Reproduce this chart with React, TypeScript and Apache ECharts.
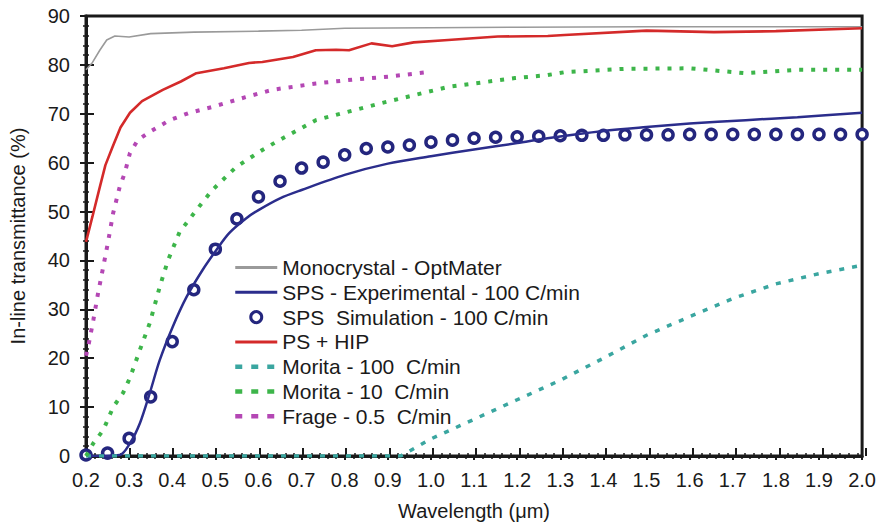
import React, { useEffect, useRef } from "react";
import * as echarts from "echarts";

// Wavelength (µm) vs in-line transmittance (%) readings, [x, y]
const monocrystal: [number, number][] = [
  [0.2, 79], [0.215, 80.5], [0.232, 83], [0.248, 85.1], [0.267, 85.9], [0.3, 85.7],
  [0.35, 86.4], [0.45, 86.7], [0.6, 86.9], [0.7, 87.1], [0.8, 87.5], [1.0, 87.6],
  [1.2, 87.7], [1.5, 87.8], [1.8, 87.8], [2.0, 87.8],
];

const spsExperimental: [number, number][] = [
  [0.2, 0], [0.278, 0.2], [0.302, 2.6], [0.325, 6.7], [0.348, 12.9], [0.371, 19.6],
  [0.401, 26.4], [0.433, 32.5], [0.47, 38], [0.502, 42.1], [0.532, 45.6], [0.571, 48.6],
  [0.6, 50.3], [0.65, 52.7], [0.7, 54.4], [0.8, 57.5], [0.9, 59.8], [1.0, 61.3],
  [1.1, 62.7], [1.2, 64], [1.27, 65], [1.4, 66.5], [1.5, 67.3], [1.6, 68],
  [1.73, 68.7], [1.85, 69.3], [2.0, 70.2],
];

const simWavelength: number[] = [
  0.2, 0.25, 0.3, 0.35, 0.4, 0.45, 0.5, 0.55, 0.6, 0.65, 0.7, 0.75, 0.8, 0.85, 0.9,
  0.95, 1.0, 1.05, 1.1, 1.15, 1.2, 1.25, 1.3, 1.35, 1.4, 1.45, 1.5, 1.55, 1.6, 1.65,
  1.7, 1.75, 1.8, 1.85, 1.9, 1.95, 2.0,
];
const simTransmittance: number[] = [
  0.2, 0.6, 3.6, 12.1, 23.4, 34, 42.3, 48.5, 53, 56.2, 58.9, 60.1, 61.6, 62.9, 63.2,
  63.6, 64.2, 64.6, 65, 65.2, 65.3, 65.4, 65.5, 65.6, 65.6, 65.7, 65.7, 65.7, 65.8, 65.8,
  65.8, 65.8, 65.8, 65.8, 65.8, 65.8, 65.8,
];

const psHip: [number, number][] = [
  [0.2, 43.8], [0.215, 49], [0.232, 55], [0.245, 59.5], [0.262, 63.3], [0.28, 67.2],
  [0.302, 70.2], [0.33, 72.6], [0.378, 74.9], [0.42, 76.6], [0.456, 78.3], [0.52, 79.3],
  [0.578, 80.4], [0.609, 80.6], [0.68, 81.6], [0.733, 83], [0.78, 83.1], [0.81, 83],
  [0.862, 84.4], [0.91, 83.8], [0.96, 84.6], [1.04, 85.1], [1.155, 85.8], [1.271, 85.9],
  [1.31, 86.1], [1.5, 87], [1.656, 86.7], [1.8, 86.9], [2.0, 87.5],
];

const morita100: [number, number][] = [
  [0.2, 0], [0.93, 0], [1.0, 3.5], [1.1, 7.5], [1.2, 11.5], [1.3, 15.5], [1.4, 20],
  [1.5, 24.7], [1.6, 28.5], [1.7, 32.2], [1.8, 35.2], [1.9, 37.3], [2.0, 39],
];

const morita10: [number, number][] = [
  [0.2, 0], [0.217, 2.6], [0.24, 5.3], [0.263, 10], [0.286, 12.9], [0.302, 16],
  [0.325, 21.7], [0.348, 27.2], [0.371, 34.6], [0.39, 40], [0.417, 45.8], [0.456, 50.3],
  [0.493, 54.4], [0.548, 59.1], [0.609, 62.6], [0.648, 64.6], [0.733, 68.7], [0.886, 72.2],
  [1.04, 75.5], [1.195, 77.3], [1.27, 77.9], [1.31, 78.5], [1.45, 79.2], [1.6, 79.3],
  [1.73, 78.3], [1.85, 79], [2.0, 79],
];

const frage: [number, number][] = [
  [0.2, 20.5], [0.205, 22.3], [0.217, 27.8], [0.228, 33.3], [0.24, 38.7], [0.252, 44.2],
  [0.263, 49.7], [0.278, 55], [0.29, 57.9], [0.302, 62], [0.32, 64.6], [0.348, 66.3],
  [0.394, 68.7], [0.44, 70.2], [0.493, 71.4], [0.57, 73.4], [0.632, 74.9], [0.733, 76.2],
  [0.82, 77], [0.902, 77.6], [1.0, 78.6],
];

const seriesNames: string[] = [
  "Monocrystal - OptMater",
  "SPS - Experimental - 100 C/min",
  "SPS  Simulation - 100 C/min",
  "PS + HIP",
  "Morita - 100  C/min",
  "Morita - 10  C/min",
  "Frage - 0.5  C/min",
];

const FONT = "'Liberation Sans', Arial, Helvetica, sans-serif";
const INK = "#1a1a1a";
const RING = "#24267e";

const gridBox = { left: 86, right: 13, top: 16, bottom: 72 };

export default function App() {
  const ref = useRef<HTMLDivElement>(null);

  useEffect(() => {
    if (!ref.current) return;
    const chart = echarts.init(ref.current, undefined, { renderer: "svg" });

    const xRange = { type: "value" as const, min: 0.2, max: 2.0, interval: 0.1 };
    const yRange = { type: "value" as const, min: 0, max: 90, interval: 10 };

    // line entries show only a heavier stroke in the legend; the scatter keeps its ring
    const dashedKey = { width: 4.5, type: [7, 9] };
    const legendData = seriesNames.map((name, i) => {
      if (i === 2) {
        return { name, itemStyle: { color: "#ffffff", borderColor: RING, borderWidth: 3 } };
      }
      const lineStyle = i >= 4 ? dashedKey : { width: 3 };
      return { name, itemStyle: { opacity: 0 }, lineStyle };
    });

    chart.setOption({
      animation: false,
      backgroundColor: "#ffffff",
      grid: [
        { ...gridBox, show: true, borderColor: INK, borderWidth: 3, backgroundColor: "transparent" },
        { ...gridBox, show: false },
      ],
      xAxis: [
        {
          ...xRange,
          gridIndex: 0,
          name: "Wavelength (\u03bcm)",
          nameLocation: "middle",
          nameGap: 45,
          nameTextStyle: { fontFamily: FONT, fontSize: 20, color: INK },
          axisLine: { lineStyle: { color: INK, width: 3 } },
          axisTick: { show: true, inside: false, length: 4, lineStyle: { color: INK, width: 2 } },
          minorTick: { show: true, splitNumber: 5, length: 3, lineStyle: { color: INK, width: 1.5 } },
          axisLabel: {
            margin: 14,
            fontFamily: FONT,
            fontSize: 20,
            color: INK,
            formatter: (v: number) => v.toFixed(1),
          },
          splitLine: { show: false },
        },
        {
          ...xRange,
          gridIndex: 1,
          axisLine: { show: false },
          axisTick: { show: true, inside: true, length: 8, lineStyle: { color: INK, width: 2 } },
          minorTick: { show: true, splitNumber: 5, length: 3, lineStyle: { color: INK, width: 1.5 } },
          axisLabel: { show: false },
          splitLine: { show: false },
        },
      ],
      yAxis: [
        {
          ...yRange,
          gridIndex: 0,
          name: "In-line transmittance (%)",
          nameLocation: "middle",
          nameGap: 58,
          nameTextStyle: { fontFamily: FONT, fontSize: 20, color: INK },
          axisLine: { show: true, lineStyle: { color: INK, width: 3 } },
          axisTick: { show: true, inside: false, length: 6, lineStyle: { color: INK, width: 2 } },
          minorTick: { show: true, splitNumber: 5, length: 3, lineStyle: { color: INK, width: 1.5 } },
          axisLabel: { margin: 16, fontFamily: FONT, fontSize: 20, color: INK },
          splitLine: { show: false },
        },
        {
          ...yRange,
          gridIndex: 1,
          axisLine: { show: false },
          axisTick: { show: true, inside: true, length: 8, lineStyle: { color: INK, width: 2 } },
          minorTick: { show: true, splitNumber: 5, length: 3, lineStyle: { color: INK, width: 1.5 } },
          axisLabel: { show: false },
          splitLine: { show: false },
        },
      ],
      legend: {
        orient: "vertical",
        left: 228,
        top: 252,
        itemWidth: 42,
        itemHeight: 11,
        itemGap: 3.8,
        textStyle: { fontFamily: FONT, fontSize: 21, color: INK, lineHeight: 20 },
        data: legendData,
      },
      series: [
        {
          name: seriesNames[0],
          type: "line",
          data: monocrystal,
          symbol: "none",
          lineStyle: { color: "#9a9a9a", width: 1.6 },
          itemStyle: { color: "#9a9a9a" },
        },
        {
          name: seriesNames[1],
          type: "line",
          data: spsExperimental,
          symbol: "none",
          smooth: 0.3,
          lineStyle: { color: "#2b2d8c", width: 2.5 },
          itemStyle: { color: "#2b2d8c" },
        },
        {
          name: seriesNames[2],
          type: "scatter",
          data: simWavelength.map((x, i) => [x, simTransmittance[i]]),
          symbol: "circle",
          symbolSize: 10,
          itemStyle: { color: "#ffffff", borderColor: RING, borderWidth: 3.5, opacity: 1 },
        },
        {
          name: seriesNames[3],
          type: "line",
          data: psHip,
          symbol: "none",
          lineStyle: { color: "#d42a2a", width: 2.6 },
          itemStyle: { color: "#d42a2a" },
        },
        {
          name: seriesNames[4],
          type: "line",
          data: morita100,
          symbol: "none",
          lineStyle: { color: "#3aa6a0", width: 3.5, type: [5, 8] },
          itemStyle: { color: "#3aa6a0" },
        },
        {
          name: seriesNames[5],
          type: "line",
          data: morita10,
          symbol: "none",
          lineStyle: { color: "#3db54a", width: 4, type: [4, 8] },
          itemStyle: { color: "#3db54a" },
        },
        {
          name: seriesNames[6],
          type: "line",
          data: frage,
          symbol: "none",
          lineStyle: { color: "#b447b4", width: 4, type: [4, 8] },
          itemStyle: { color: "#b447b4" },
        },
      ],
    });

    return () => chart.dispose();
  }, []);

  return (
    <div
      ref={ref}
      style={{ position: "fixed", left: 0, top: 0, width: 879, height: 528, background: "#fff" }}
    />
  );
}
